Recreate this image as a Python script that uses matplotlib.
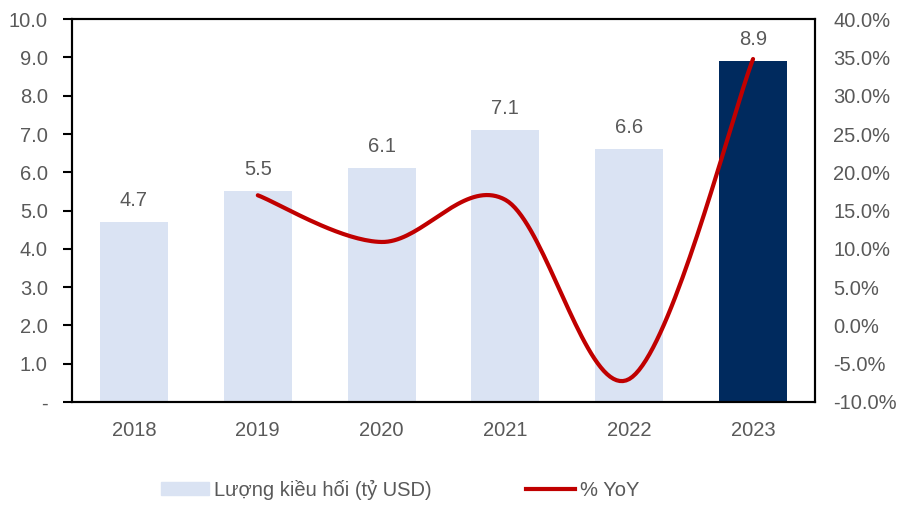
import numpy as np
import matplotlib
matplotlib.use("Agg")
import matplotlib.pyplot as plt
from matplotlib.ticker import FuncFormatter
from matplotlib.patches import Patch
from matplotlib.lines import Line2D

plt.rcParams['font.family'] = ['Liberation Sans', 'DejaVu Sans']

years = ["2018", "2019", "2020", "2021", "2022", "2023"]
remit = [4.7, 5.5, 6.1, 7.1, 6.6, 8.9]
yoy_years = ["2019", "2020", "2021", "2022", "2023"]
yoy = [17.0, 10.9, 16.4, -7.0, 34.8]

grey = "#595959"
light = "#DAE3F3"
dark = "#002A5E"
red = "#C00000"
fs = 14.5


def smooth(xs, ys, n=40):
    # bezier smoothing through the points, like a spreadsheet "smoothed line"
    xs = np.asarray(xs, float)
    ys = np.asarray(ys, float)
    out_x, out_y = [], []
    for i in range(len(xs) - 1):
        p0 = np.array([xs[max(i - 1, 0)], ys[max(i - 1, 0)]])
        p1 = np.array([xs[i], ys[i]])
        p2 = np.array([xs[i + 1], ys[i + 1]])
        p3 = np.array([xs[min(i + 2, len(xs) - 1)], ys[min(i + 2, len(xs) - 1)]])
        c1 = p1 + (p2 - p0) / 6
        c2 = p2 - (p3 - p1) / 6
        t = np.linspace(0, 1, n)[:, None]
        pts = (1 - t) ** 3 * p1 + 3 * (1 - t) ** 2 * t * c1 + 3 * (1 - t) * t ** 2 * c2 + t ** 3 * p2
        out_x.extend(pts[:, 0])
        out_y.extend(pts[:, 1])
    return out_x, out_y


fig = plt.figure(figsize=(9.01, 5.05), dpi=100)
ax = fig.add_axes([0.080, 0.204, 0.8245, 0.758])

x = np.arange(len(years))
colors = [light] * (len(years) - 1) + [dark]
ax.bar(x, remit, width=0.55, color=colors, zorder=2)
for xi, v in zip(x, remit):
    ax.text(xi, v + 0.32, f"{v:.1f}", ha="center", va="bottom", fontsize=fs, color=grey)

ax.set_ylim(0, 10)
ax.set_yticks(np.arange(0, 11, 1))
ax.yaxis.set_major_formatter(FuncFormatter(lambda v, p: "-" if v == 0 else f"{v:.1f}"))
ax.set_xlim(-0.5, len(years) - 0.5)
ax.set_xticks(x)
ax.set_xticklabels(years)
ax.tick_params(axis="y", direction="out", length=6.5, width=1.5, colors="black", labelcolor=grey, labelsize=fs, pad=11)
ax.tick_params(axis="x", length=0, labelcolor=grey, labelsize=fs, pad=14)
for s in ax.spines.values():
    s.set_linewidth(1.5)
    s.set_color("black")

ax2 = ax.twinx()
yx = [years.index(y) for y in yoy_years]
sx, sy = smooth(yx, yoy)
ax2.plot(sx, sy, color=red, lw=3, solid_capstyle="round", zorder=3)
ax2.set_ylim(-10, 40)
ax2.set_yticks(np.arange(-10, 41, 5))
ax2.yaxis.set_major_formatter(FuncFormatter(lambda v, p: f"{v:.1f}%"))
ax2.tick_params(axis="y", length=0, labelcolor=grey, labelsize=fs, pad=13)
for s in ax2.spines.values():
    s.set_linewidth(1.5)

handles = [Patch(color=light, label="Lượng kiều hối (tỷ USD)"),
           Line2D([], [], color=red, lw=3, label="% YoY")]
fig.legend(handles=handles, loc="center", bbox_to_anchor=(0.444, 0.03), ncol=2, frameon=False,
           fontsize=fs, labelcolor=grey, handlelength=2.4, handleheight=0.6, columnspacing=4.7,
           handletextpad=0.25)

fig.savefig("out.png", dpi=100)
